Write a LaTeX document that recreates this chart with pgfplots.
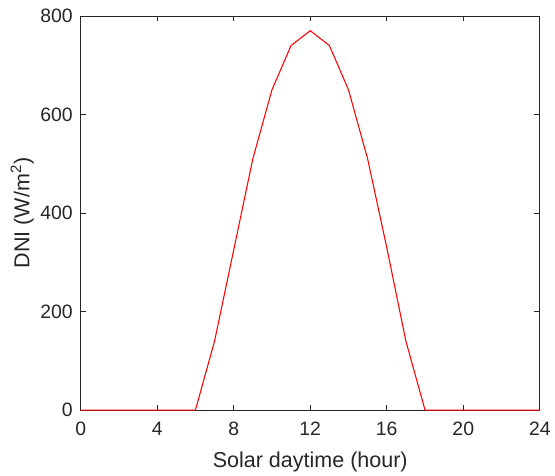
\documentclass[border=0pt]{standalone}
\usepackage{fontspec}
\setmainfont{Liberation Sans}
\usepackage{pgfplots}
\pgfplotsset{compat=1.18}
\definecolor{axgray}{HTML}{262626}

\begin{document}
\begin{tikzpicture}[x=0.75pt,y=0.75pt]
\begin{axis}[
    name=a,
    scale only axis,
    width=345.75pt, height=296.8pt,
    xmin=0, xmax=24, ymin=0, ymax=800,
    xtick={0,4,...,24}, ytick={0,200,...,800},
    tick align=inside,
    major tick length=4pt,
    axis line style={axgray, line width=0.6pt},
    every tick/.style={axgray, line width=0.6pt},
    tick label style={font=\fontsize{14.6}{16}\selectfont, text=axgray},
    xticklabel style={yshift=-5.5pt},
    yticklabel style={xshift=-2.5pt},
    label style={font=\fontsize{16.2}{18}\selectfont, text=axgray},
    xlabel style={yshift=-5pt},
    ylabel style={yshift=-2pt},
    /pgf/number format/assume math mode=true,
    xlabel={Solar daytime (hour)},
    ylabel={DNI (W/m\textsuperscript{2})},
    clip=false,
]
% DNI over the day
\addplot[red, line width=0.8pt, mark=none] coordinates {
    (0,0) (1,0) (2,0) (3,0) (4,0) (5,0) (6,0)
    (7,140) (8,325) (9,510) (10,650) (11,740) (12,770)
    (13,740) (14,650) (15,510) (16,330) (17,140)
    (18,0) (19,0) (20,0) (21,0) (22,0) (23,0) (24,0)
};
\end{axis}
\path[use as bounding box] (a.south west) ++(-81,-65.3) rectangle ([shift={(13,16)}]a.north east);
\end{tikzpicture}
\end{document}
